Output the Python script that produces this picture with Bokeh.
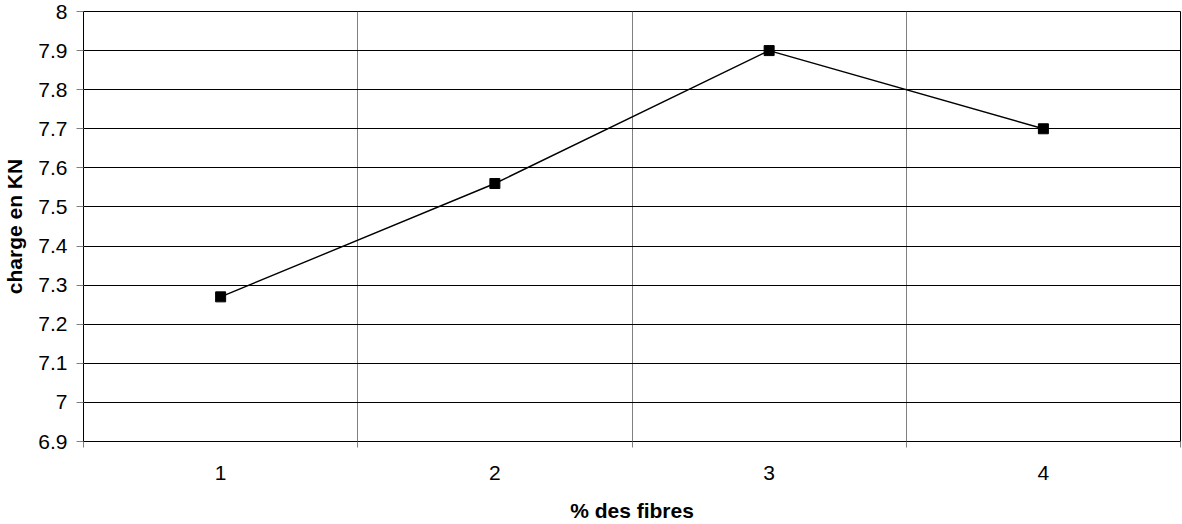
from bokeh.plotting import figure
from bokeh.models import FixedTicker, CustomJSTickFormatter, Range1d, ColumnDataSource
from bokeh.embed import file_html
from bokeh.resources import INLINE

# data
fibres = [1, 2, 3, 4]
charge = [7.27, 7.56, 7.90, 7.70]
x_labels = ["1", "2", "3", "4"]
y_ticks = [6.9, 7.0, 7.1, 7.2, 7.3, 7.4, 7.5, 7.6, 7.7, 7.8, 7.9, 8.0]
x_bounds = [0.5, 1.5, 2.5, 3.5, 4.5]

FONT = "Liberation Sans"

p = figure(width=1182, height=524, output_backend="svg", toolbar_location=None,
           x_range=Range1d(0.5, 4.5), y_range=Range1d(6.9, 8.0),
           min_border_left=83, min_border_right=2, min_border_top=11, min_border_bottom=82)

p.outline_line_color = "black"
p.outline_line_width = 1
p.background_fill_color = "white"
p.border_fill_color = "white"

# x axis
p.xaxis.ticker = FixedTicker(ticks=fibres, minor_ticks=x_bounds)
p.xaxis.major_label_overrides = {f: l for f, l in zip(fibres, x_labels)}
p.xaxis.major_tick_out = 0
p.xaxis.major_tick_in = 0
p.xaxis.minor_tick_out = 6
p.xaxis.minor_tick_in = 0
p.xaxis.minor_tick_line_color = "#808080"
p.xaxis.axis_line_color = "black"
p.xaxis.major_label_standoff = 18
p.xaxis.major_label_text_font = FONT
p.xaxis.major_label_text_font_size = "21px"
p.xaxis.major_label_text_color = "black"
p.xaxis.axis_label = "% des fibres"
p.xaxis.axis_label_text_font = FONT
p.xaxis.axis_label_text_font_size = "21px"
p.xaxis.axis_label_text_font_style = "bold"
p.xaxis.axis_label_text_color = "black"
p.xaxis.axis_label_standoff = 16

# y axis
p.yaxis.ticker = FixedTicker(ticks=y_ticks, minor_ticks=[])
p.yaxis.formatter = CustomJSTickFormatter(code="return String(Math.round(tick*10)/10)")
p.yaxis.major_tick_out = 7
p.yaxis.major_tick_in = 0
p.yaxis.major_tick_line_color = "#808080"
p.yaxis.minor_tick_out = 0
p.yaxis.minor_tick_in = 0
p.yaxis.axis_line_color = "black"
p.yaxis.major_label_standoff = 9
p.yaxis.major_label_text_font = FONT
p.yaxis.major_label_text_font_size = "21px"
p.yaxis.major_label_text_color = "black"
p.yaxis.axis_label = "charge en KN"
p.yaxis.axis_label_text_font = FONT
p.yaxis.axis_label_text_font_size = "21px"
p.yaxis.axis_label_text_font_style = "bold"
p.yaxis.axis_label_text_color = "black"
p.yaxis.axis_label_standoff = 9

# grids
p.xgrid.grid_line_color = None
p.xgrid.minor_grid_line_color = "#808080"
p.xgrid.minor_grid_line_width = 1
p.ygrid.grid_line_color = "black"
p.ygrid.grid_line_width = 1

src = ColumnDataSource(dict(x=fibres, y=charge))
p.line("x", "y", source=src, line_color="black", line_width=1.4)
p.scatter("x", "y", source=src, marker="square", size=10, fill_color="black", line_color="black")

open("out.html", "w").write(file_html(p, INLINE))
